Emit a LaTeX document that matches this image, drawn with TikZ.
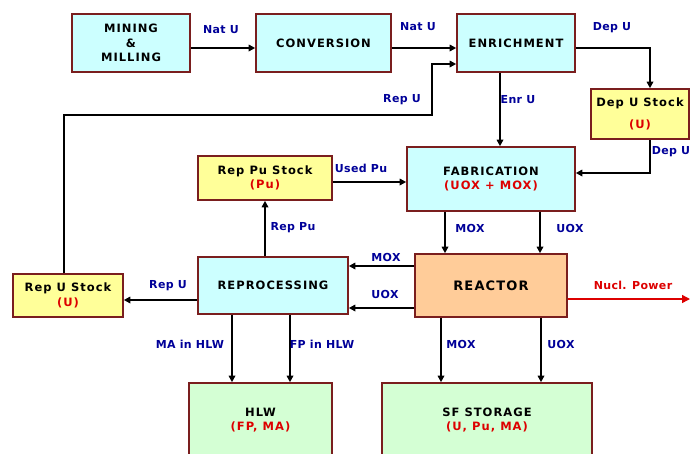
\documentclass[tikz,border=0pt]{standalone}
\usepackage{fontspec}
\setmainfont{DejaVu Sans}
\newfontfamily\boxfont[LetterSpace=9]{DejaVu Sans}
\newfontfamily\labfont[LetterSpace=3]{DejaVu Sans}
\usetikzlibrary{arrows.meta}
\definecolor{bordc}{HTML}{7A1E1E}
\definecolor{cyanf}{HTML}{CCFFFF}
\definecolor{yelf}{HTML}{FFFF99}
\definecolor{orgf}{HTML}{FFCC99}
\definecolor{grnf}{HTML}{D4FFD4}
\definecolor{labc}{HTML}{000099}
\definecolor{redt}{HTML}{DD0000}
\begin{document}
\begin{tikzpicture}[x=1pt,y=-1pt,
  box/.style={draw=bordc, line width=1.6pt, inner sep=0pt, align=center,
    font=\boxfont\bfseries\fontsize{11.5}{14.5}\selectfont},
  cbox/.style={box, fill=cyanf},
  ybox/.style={box, fill=yelf},
  obox/.style={box, fill=orgf},
  gbox/.style={box, fill=grnf},
  arr/.style={line width=1.6pt, -{Triangle[length=6.5pt,width=6.5pt]}},
  lab/.style={text=labc, inner sep=0pt, font=\labfont\bfseries\fontsize{11}{12}\selectfont}]
\useasboundingbox (0,0) rectangle (691,453);
\clip (0,0) rectangle (691,453);
\fill[white] (0,0) rectangle (691,453);
% boxes
\node[cbox, minimum width=118pt, minimum height=58pt] (mine) at (131,43) {MINING\\\&\\MILLING};
\node[cbox, minimum width=135pt, minimum height=58pt] (conv) at (323.5,43) {CONVERSION};
\node[cbox, minimum width=118pt, minimum height=58pt] (enr) at (516,43) {ENRICHMENT};
\node[ybox, minimum width=98pt, minimum height=50pt] (depstock) at (640,114) {Dep U Stock\\[8pt]{\color{redt}(U)}};
\node[cbox, minimum width=168pt, minimum height=64pt] (fab) at (491,179) {FABRICATION\\{\color{redt}(UOX + MOX)}};
\node[ybox, minimum width=134pt, minimum height=44pt] (reppu) at (265,178) {Rep Pu Stock\\[-1pt]{\color{redt}(Pu)}};
\node[cbox, minimum width=150pt, minimum height=57pt] (repro) at (273,285.5) {REPROCESSING};
\node[ybox, minimum width=110pt, minimum height=43pt] (repu) at (68,295.5) {Rep U Stock\\{\color{redt}(U)}};
\node[obox, minimum width=152pt, minimum height=63pt, font=\boxfont\bfseries\fontsize{13}{14.5}\selectfont] (reactor) at (491,285.5) {REACTOR};
\node[gbox, minimum width=143pt, minimum height=74pt] (hlw) at (260.5,420) {HLW\\{\color{redt}(FP, MA)}};
\node[gbox, minimum width=210pt, minimum height=74pt] (sf) at (487,420) {SF STORAGE\\{\color{redt}(U, Pu, MA)}};
\coordinate (pw) at (690,299);
% connectors
\draw[arr] (mine.east |- 0,48) -- (conv.west |- 0,48);
\draw[arr] (conv.east |- 0,48) -- (enr.west |- 0,48);
\draw[arr] (enr.east |- 0,48) -| (depstock.north -| 650,0);
\draw[arr] (depstock.south -| 650,0) |- (fab.east |- 0,173);
\draw[arr] (enr.south -| 500,0) -- (fab.north -| 500,0);
\draw[arr] (repu.north -| 64,0) |- (432,115) |- (enr.west |- 0,64);
\draw[arr] (reppu.east |- 0,182) -- (fab.west |- 0,182);
\draw[arr] (repro.north -| 265,0) -- (reppu.south -| 265,0);
\draw[arr] (repro.west |- 0,300) -- (repu.east |- 0,300);
\draw[arr] (fab.south -| 445,0) -- (reactor.north -| 445,0);
\draw[arr] (fab.south -| 540,0) -- (reactor.north -| 540,0);
\draw[arr] (reactor.west |- 0,266) -- (repro.east |- 0,266);
\draw[arr] (reactor.west |- 0,308) -- (repro.east |- 0,308);
\draw[line width=1.4pt, draw=redt, fill=redt, -{Triangle[length=8pt,width=8pt]}] (reactor.east |- 0,299) -- (pw);
\draw[arr] (repro.south -| 232,0) -- (hlw.north -| 232,0);
\draw[arr] (repro.south -| 290,0) -- (hlw.north -| 290,0);
\draw[arr] (reactor.south -| 441,0) -- (sf.north -| 441,0);
\draw[arr] (reactor.south -| 541,0) -- (sf.north -| 541,0);
% labels
\node[lab] at (221,30) {Nat U};
\node[lab] at (418,27) {Nat U};
\node[lab] at (612,28) {Dep U};
\node[lab] at (402,100) {Rep U};
\node[lab] at (518,100) {Enr U};
\node[lab] at (671,152) {Dep U};
\node[lab] at (361,168) {Used Pu};
\node[lab] at (293,228) {Rep Pu};
\node[lab] at (168,286) {Rep U};
\node[lab] at (470,228) {MOX};
\node[lab] at (570,228) {UOX};
\node[lab] at (386,257) {MOX};
\node[lab] at (385,294) {UOX};
\node[lab, text=redt] at (633,285) {Nucl. Power};
\node[lab] at (190,344) {MA in HLW};
\node[lab] at (322,344) {FP in HLW};
\node[lab] at (461,344) {MOX};
\node[lab] at (561,344) {UOX};
\end{tikzpicture}
\end{document}
